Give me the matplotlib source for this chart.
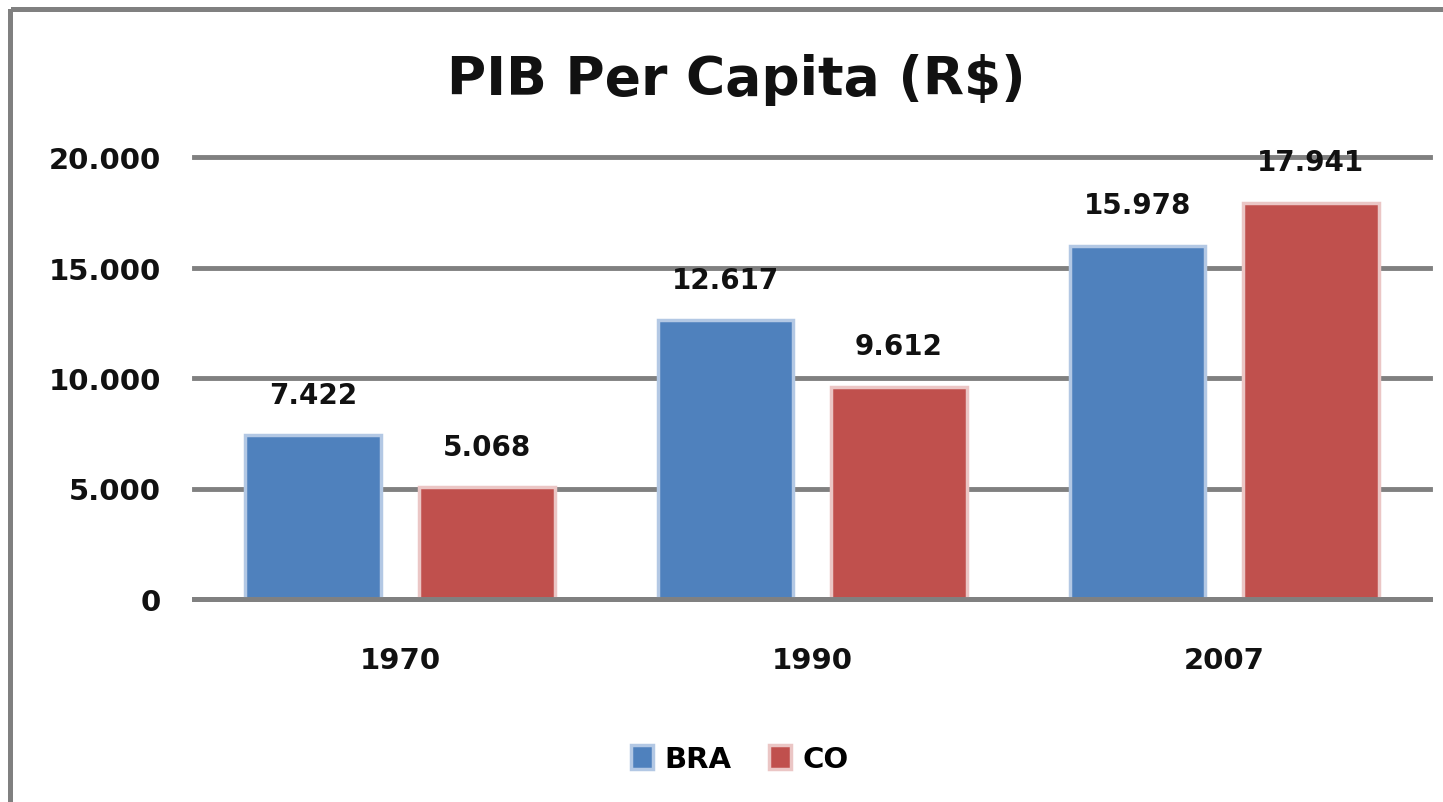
import matplotlib.pyplot as plt
import numpy as np
from matplotlib.lines import Line2D

years = ['1970', '1990', '2007']
bra = [7422, 12617, 15978]
co = [5068, 9612, 17941]
series_names = ['BRA', 'CO']
yticks = [0, 5000, 10000, 15000, 20000]
ytick_labels = ['0', '5.000', '10.000', '15.000', '20.000']


def fmt(v):
    return f'{v:,}'.replace(',', '.')


plt.rcParams['font.family'] = ['DejaVu Sans']

fig = plt.figure(figsize=(14.43, 8.03), dpi=100)
ax = fig.add_axes([194 / 1443, 1 - 600 / 803, (1430 - 194) / 1443, (600 - 158) / 803])

x = np.arange(len(years))
w = 0.33
off = 0.21
b1 = ax.bar(x - off, bra, w, color='#4F81BD', edgecolor='#B3C8E4', linewidth=2.5,
            label=series_names[0], zorder=3)
b2 = ax.bar(x + off, co, w, color='#C0504D', edgecolor='#EBC6C5', linewidth=2.5,
            label=series_names[1], zorder=3)

for bars, vals in ((b1, bra), (b2, co)):
    for r, v in zip(bars, vals):
        ax.annotate(fmt(v), (r.get_x() + r.get_width() / 2, v), xytext=(0, 19),
                    textcoords='offset points', ha='center', va='bottom',
                    fontsize=20, fontweight='bold', color='#111111', zorder=5)

ax.set_xlim(-0.5, 2.5)
ax.set_ylim(0, 20000)
ax.set_yticks(yticks)
ax.set_yticklabels(ytick_labels, fontsize=21, fontweight='bold', color='#111111')
ax.set_xticks(x)
ax.set_xticklabels(years, fontsize=21, fontweight='bold', color='#111111')
ax.tick_params(axis='y', length=0, pad=24)
ax.tick_params(axis='x', length=0, pad=34)
ax.grid(axis='y', color='#808080', linewidth=3.5, zorder=0)
for gl in ax.get_ygridlines():
    gl.set_clip_on(False)
# baseline drawn over the bars
ax.axhline(0, color='#808080', linewidth=3.5, zorder=4, clip_on=False)
for s in ax.spines.values():
    s.set_visible(False)

fig.text(736 / 1443, 1 - 80 / 803, 'PIB Per Capita (R$)', ha='center', va='center',
         fontsize=38.5, fontweight='bold', color='#111111')

fig.legend(handles=[b1, b2], loc='center', bbox_to_anchor=(740 / 1443, 1 - 760 / 803),
           ncol=2, frameon=False, prop={'size': 21, 'weight': 'bold'},
           handlelength=0.75, handleheight=0.9, columnspacing=1.3, handletextpad=0.4)

# grey frame on top and left edges
fig.add_artist(Line2D([13 / 1443, 1], [1 - 9.5 / 803, 1 - 9.5 / 803],
                      transform=fig.transFigure, color='#808080', linewidth=3.6))
fig.add_artist(Line2D([10 / 1443, 10 / 1443], [1 - 12 / 803, 0],
                      transform=fig.transFigure, color='#808080', linewidth=3.6))

fig.savefig('out.png', dpi=100)
